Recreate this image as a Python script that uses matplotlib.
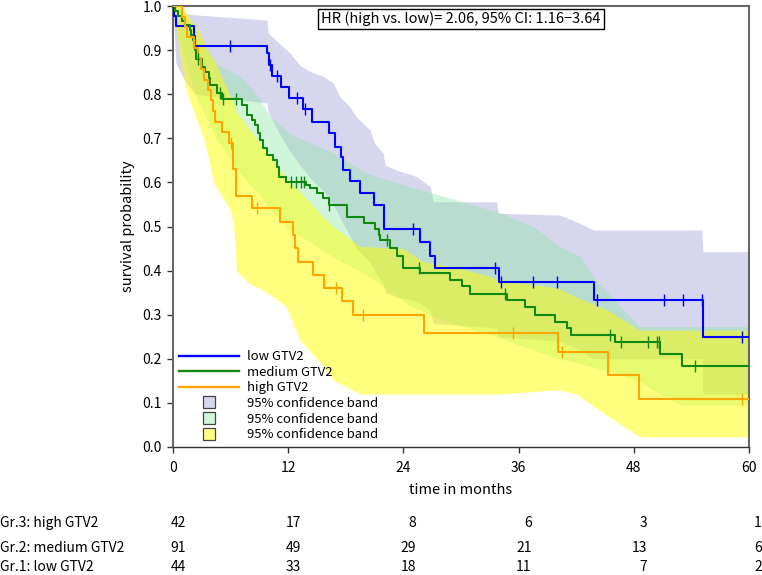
import matplotlib
matplotlib.use("Agg")
import matplotlib.pyplot as plt
from matplotlib.lines import Line2D
from matplotlib.transforms import blended_transform_factory

plt.rcParams['font.family'] = ['Noto Sans CJK JP', 'DejaVu Sans']

# ---------------- data ----------------
# Kaplan-Meier step curves: event times (months) and survival after each step
low_t = [0, 0.1, 0.3, 2.2, 2.3, 9.8, 10.0, 10.3, 11.3, 12.1, 13.5, 14.5, 16.2, 16.9,
         17.5, 17.7, 18.4, 19.5, 20.9, 22.0, 25.7, 26.8, 27.3, 34.0, 43.9, 55.2]
low_s = [1.0, 0.977, 0.955, 0.932, 0.909, 0.893, 0.866, 0.841, 0.816, 0.792, 0.766,
         0.738, 0.711, 0.681, 0.657, 0.628, 0.603, 0.575, 0.548, 0.494, 0.464, 0.433,
         0.405, 0.375, 0.333, 0.25]
low_cens = [5.9, 10.1, 10.8, 12.9, 13.7, 25.0, 33.5, 34.2, 37.5, 40.0, 44.2, 51.1,
            53.1, 55.1, 59.3]

med_t = [0, 0.2, 0.5, 0.9, 1.25, 1.8, 1.9, 2.1, 2.3, 2.35, 3.0, 3.3, 3.7, 3.85, 4.55,
         5.1, 7.2, 7.7, 8.2, 8.5, 8.9, 9.1, 9.4, 9.8, 10.4, 10.8, 11.0, 11.8, 13.9,
         14.3, 15.0, 15.6, 16.2, 18.1, 19.9, 21.0, 21.5, 21.6, 22.6, 23.3, 24.0, 25.7,
         28.9, 30.1, 30.9, 34.8, 36.7, 37.7, 39.8, 41.0, 41.5, 46.0, 50.7, 53.0]
med_s = [1.0, 0.989, 0.978, 0.967, 0.956, 0.945, 0.934, 0.923, 0.901, 0.879, 0.862,
         0.851, 0.836, 0.821, 0.802, 0.789, 0.776, 0.753, 0.741, 0.730, 0.711, 0.696,
         0.677, 0.662, 0.651, 0.636, 0.613, 0.602, 0.594, 0.587, 0.576, 0.565, 0.548,
         0.522, 0.508, 0.494, 0.481, 0.469, 0.451, 0.432, 0.405, 0.394, 0.379, 0.364,
         0.348, 0.333, 0.318, 0.299, 0.284, 0.269, 0.254, 0.237, 0.211, 0.184]
med_cens = [2.6, 4.9, 5.2, 6.6, 12.3, 12.8, 13.3, 13.6, 16.2, 22.3, 25.6, 34.6, 45.5,
            46.7, 49.5, 50.4, 50.6, 54.4]

high_t = [0, 0.9, 1.2, 1.5, 2.2, 2.6, 2.9, 3.2, 3.6, 4.0, 4.2, 4.4, 5.1, 5.8, 6.3,
          6.6, 8.2, 11.1, 12.5, 12.7, 13.05, 14.6, 15.7, 17.6, 18.8, 26.1, 40.1, 45.3,
          48.5]
high_s = [1.0, 0.976, 0.952, 0.929, 0.905, 0.881, 0.857, 0.833, 0.810, 0.786, 0.762,
          0.738, 0.714, 0.690, 0.630, 0.570, 0.541, 0.511, 0.481, 0.451, 0.420, 0.390,
          0.360, 0.330, 0.299, 0.258, 0.216, 0.163, 0.108]
high_cens = [6.0, 8.7, 17.0, 19.8, 35.4, 40.5, 59.3]

# 95% confidence bands (time, lower, upper)
low_band_t = [0, 0.3, 1.25, 2.3, 9.8, 9.9, 11.1, 12.2, 13.2, 14.3, 15.7, 16.7, 17.4,
              18.4, 19.1, 20.5, 21.0, 21.9, 22.1, 23.3, 25.4, 26.8, 27.1, 33.7, 33.9,
              40.3, 42.4, 43.8, 55.1, 55.2, 60]
low_band_hi = [1.0, 1.0, 0.983, 0.98, 0.968, 0.939, 0.915, 0.893, 0.866, 0.851, 0.84,
               0.825, 0.794, 0.772, 0.749, 0.719, 0.689, 0.666, 0.639, 0.628, 0.613,
               0.590, 0.556, 0.556, 0.530, 0.526, 0.507, 0.492, 0.492, 0.443, 0.443]
low_band_lo = [1.0, 0.87, 0.83, 0.80, 0.78, 0.76, 0.71, 0.67, 0.64, 0.61, 0.58, 0.55,
               0.52, 0.48, 0.45, 0.42, 0.40, 0.37, 0.35, 0.34, 0.33, 0.31, 0.28, 0.27,
               0.25, 0.24, 0.22, 0.20, 0.20, 0.12, 0.12]

med_band_t = [0, 0.5, 2.3, 4.5, 7.0, 8.7, 10.1, 12.2, 13.2, 16.7, 20.2, 24.7, 27.8,
              33.7, 37.5, 40.3, 42.4, 44.0, 48.6, 50.7, 53.0, 60]
med_band_hi = [1.0, 1.0, 0.95, 0.87, 0.84, 0.80, 0.75, 0.71, 0.70, 0.667, 0.62, 0.59,
               0.571, 0.534, 0.50, 0.454, 0.432, 0.38, 0.273, 0.273, 0.273, 0.273]
med_band_lo = [1.0, 0.93, 0.80, 0.70, 0.62, 0.58, 0.54, 0.49, 0.48, 0.43, 0.39, 0.32,
               0.29, 0.25, 0.22, 0.20, 0.19, 0.18, 0.15, 0.12, 0.095, 0.095]

high_band_t = [0, 0.9, 1.25, 1.8, 2.5, 3.2, 3.85, 4.2, 5.9, 6.3, 6.6, 8.0, 9.4, 11.1,
               11.8, 13.2, 15.7, 16.7, 19.5, 24.0, 26.1, 30.0, 34.0, 40.1, 42.0, 45.3,
               48.6, 60]
high_band_hi = [1.0, 1.0, 0.99, 0.97, 0.95, 0.92, 0.89, 0.88, 0.80, 0.78, 0.76, 0.72,
                0.68, 0.63, 0.61, 0.58, 0.52, 0.50, 0.455, 0.45, 0.42, 0.405, 0.38,
                0.36, 0.34, 0.31, 0.265, 0.265]
high_band_lo = [1.0, 0.86, 0.82, 0.78, 0.74, 0.70, 0.64, 0.60, 0.54, 0.507, 0.40, 0.37,
                0.356, 0.33, 0.318, 0.243, 0.182, 0.152, 0.12, 0.12, 0.12, 0.12, 0.12,
                0.13, 0.12, 0.07, 0.023, 0.023]

# numbers at risk
risk_times = [0, 12, 24, 36, 48, 60]
risk_labels = ["Gr.3: high GTV2", "Gr.2: medium GTV2", "Gr.1: low GTV2"]
risk_high = [42, 17, 8, 6, 3, 1]
risk_med = [91, 49, 29, 21, 13, 6]
risk_low = [44, 33, 18, 11, 7, 2]

legend_labels = ["low GTV2", "medium GTV2", "high GTV2",
                 "95% confidence band", "95% confidence band", "95% confidence band"]
hr_text = "HR (high vs. low)= 2.06, 95% CI: 1.16\u22123.64"

# ---------------- styling ----------------
c_low, c_med, c_high = "#0000ff", "#118811", "#ffa500"
band_low = ((0.55, 0.55, 0.80), 0.35)
band_med = ((0.55, 0.90, 0.65), 0.40)
band_high = ((1.0, 1.0, 0.0), 0.50)


def on_white(rgb, a):
    return tuple(1 - a * (1 - c) for c in rgb)


W, H = 762, 575
fig = plt.figure(figsize=(W / 100, H / 100), dpi=100)
ax = fig.add_axes([173 / W, 1 - 447 / H, (749 - 173) / W, (447 - 6) / H])

ax.fill_between(low_band_t, low_band_lo, low_band_hi, color=band_low[0],
                alpha=band_low[1], lw=0, zorder=1)
ax.fill_between(med_band_t, med_band_lo, med_band_hi, color=band_med[0],
                alpha=band_med[1], lw=0, zorder=1)
ax.fill_between(high_band_t, high_band_lo, high_band_hi, color=band_high[0],
                alpha=band_high[1], lw=0, zorder=1)


def km(tt, ss, cens, color):
    xs = list(tt) + [60]
    ys = list(ss) + [ss[-1]]
    ax.step(xs, ys, where="post", color=color, lw=1.5, zorder=3)
    cy = []
    for c in cens:
        v = ss[0]
        for t_, s_ in zip(tt, ss):
            if t_ <= c:
                v = s_
        cy.append(v)
    ax.plot(cens, cy, ls="none", marker="|", ms=8, mew=1.0, color=color, zorder=4)


km(low_t, low_s, low_cens, c_low)
km(med_t, med_s, med_cens, c_med)
km(high_t, high_s, high_cens, c_high)

ax.set_xlim(0, 60)
ax.set_ylim(0, 1.0)
ax.set_xticks(risk_times)
ax.set_yticks([i / 10 for i in range(11)])
ax.set_yticklabels([f"{i / 10:.1f}" for i in range(11)])
ax.tick_params(axis="both", direction="out", length=4, width=1, labelsize=10,
               color="#333333", pad=4)
ax.tick_params(axis="x", pad=6)
for sp in ["left", "top", "right"]:
    ax.spines[sp].set_color("#666666")
    ax.spines[sp].set_linewidth(1.5)
ax.spines["bottom"].set_color("#333333")
ax.spines["bottom"].set_linewidth(1.0)

ax.text(0.5, (447 - 19) / 441, hr_text, transform=ax.transAxes, ha="center",
        va="center", fontsize=10.5, zorder=6,
        bbox=dict(boxstyle="square,pad=0.2", fc="white", ec="black", lw=1))

handles = [
    Line2D([], [], color=c_low, lw=1.7),
    Line2D([], [], color=c_med, lw=1.7),
    Line2D([], [], color=c_high, lw=1.7),
    Line2D([], [], ls="none", marker="s", ms=8.5, mfc=on_white(*band_low), mec="#444444", mew=0.9),
    Line2D([], [], ls="none", marker="s", ms=8.5, mfc=on_white(*band_med), mec="#444444", mew=0.9),
    Line2D([], [], ls="none", marker="s", ms=8.5, mfc=on_white(*band_high), mec="#444444", mew=0.9),
]
ax.legend(handles, legend_labels, loc="lower left", bbox_to_anchor=(0.0, 0.0),
          frameon=False, fontsize=9.4, handlelength=4.6, handletextpad=0.65,
          labelspacing=0.2, borderaxespad=0.2, borderpad=0.25)

fig.text((461) / W, 1 - 490 / H, "time in months", ha="center", va="center", fontsize=10.5)
fig.text(128 / W, 1 - 226 / H, "survival probability", ha="center", va="center",
         rotation=90, fontsize=10.5)

tr = blended_transform_factory(ax.transData, fig.transFigure)
rows = [risk_high, risk_med, risk_low]
row_y = [1 - 523 / H, 1 - 548 / H, 1 - 567 / H]
for lab, vals, yy in zip(risk_labels, rows, row_y):
    fig.text(0.0, yy, lab, ha="left", va="center", fontsize=10)
    for t_, v in zip(risk_times, vals):
        ax.text(t_ + 1.35, yy, str(v), transform=tr, ha="right", va="center",
                fontsize=10, clip_on=False)

fig.savefig("out.png", dpi=100)
